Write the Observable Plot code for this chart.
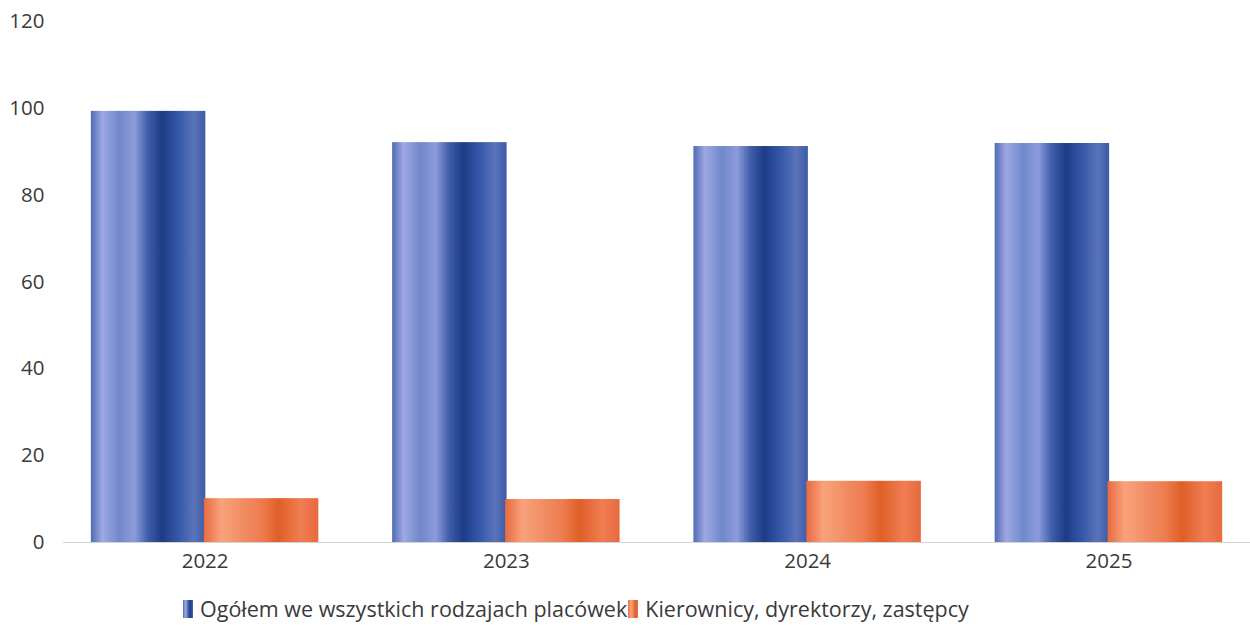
<!DOCTYPE html>
<html>
<head>
<meta charset="utf-8">
<script src="https://cdn.jsdelivr.net/npm/d3@7"></script>
<script src="https://cdn.jsdelivr.net/npm/@observablehq/plot@0.6"></script>
<style>
  html, body { margin: 0; padding: 0; background: #ffffff; }
  body { width: 1250px; height: 637px; overflow: hidden; font-family: "Open Sans", sans-serif; }
  #chart svg { display: block; }
  #legend { display: flex; align-items: center; margin-left: 183px; padding-top: 16px; font-size: 21.5px; color: #3a3a3a; font-family: "Open Sans", sans-serif; line-height: 26px; }
  .sw { width: 10px; height: 18px; display: inline-block; margin-right: 7px; }
  .sw.blue { background: linear-gradient(to right, #4f6bb5, #9ea8e2 25%, #3c5aa8 55%, #1d3c86 75%, #4a66b0); }
  .sw.orange { background: linear-gradient(to right, #e8673e, #f8a07a 25%, #f08a5e 50%, #e0602a 75%, #ec7046); margin-left: 1px; }
</style>
</head>
<body>
<div id="chart"></div>
<div id="legend"></div>
<script>
const years = ["2022", "2023", "2024", "2025"];
const seriesNames = ["Ogółem we wszystkich rodzajach placówek", "Kierownicy, dyrektorzy, zastępcy"];
const ogolem = [99.3, 92.1, 91.2, 91.9];
const kierownicy = [10.1, 9.9, 14.1, 14.0];
const yTicks = [0, 20, 40, 60, 80, 100, 120];

const blueData = years.map((y, i) => ({year: y, value: ogolem[i]}));
const orangeData = years.map((y, i) => ({year: y, value: kierownicy[i]}));

function gradientDefs() {
  const defs = d3.create("svg:defs");
  const b = defs.append("linearGradient").attr("id", "gBlue").attr("x1", "0").attr("x2", "1").attr("y1", "0").attr("y2", "0");
  [[0, "#4f6bb5"], [0.1, "#9ea8e2"], [0.25, "#7088cb"], [0.38, "#8d9bda"], [0.5, "#3f5dab"], [0.62, "#1d3c86"], [0.76, "#3557a7"], [0.9, "#5a74bb"], [1, "#3d5aa5"]]
    .forEach(([o, c]) => b.append("stop").attr("offset", o).attr("stop-color", c));
  const o = defs.append("linearGradient").attr("id", "gOrange").attr("x1", "0").attr("x2", "1").attr("y1", "0").attr("y2", "0");
  [[0, "#e96a40"], [0.15, "#f9a27c"], [0.35, "#f18c62"], [0.5, "#ee7d50"], [0.65, "#df5f28"], [0.85, "#f07d52"], [1, "#e8693e"]]
    .forEach(([of, c]) => o.append("stop").attr("offset", of).attr("stop-color", c));
  return defs.node();
}

const chart = Plot.plot({
  width: 1250,
  height: 580,
  marginLeft: 63,
  marginRight: 0,
  marginTop: 21,
  marginBottom: 38,
  style: {fontFamily: "Open Sans, sans-serif", fontSize: "20.5px", color: "#3a3a3a", background: "#ffffff"},
  x: {domain: years, paddingInner: 0.245, paddingOuter: 0.0925, round: false, label: null, tickSize: 0, tickPadding: 11},
  y: {domain: [0, 120], ticks: yTicks, label: null, tickSize: 0, tickPadding: 19},
  marks: [
    gradientDefs,
    Plot.ruleY([0], {stroke: "#d4d4d4", strokeWidth: 1}),
    Plot.barY(blueData, {x: "year", y: "value", fill: "url(#gBlue)", insetLeft: 0, insetRight: 113}),
    Plot.barY(orangeData, {x: "year", y: "value", fill: "url(#gOrange)", insetLeft: 113, insetRight: 0})
  ]
});
document.getElementById("chart").appendChild(chart);

const legend = document.getElementById("legend");
const cls = ["blue", "orange"];
seriesNames.forEach((name, i) => {
  const sw = document.createElement("span");
  sw.className = "sw " + cls[i];
  const t = document.createElement("span");
  t.textContent = name;
  legend.appendChild(sw);
  legend.appendChild(t);
});
</script>
</body>
</html>
